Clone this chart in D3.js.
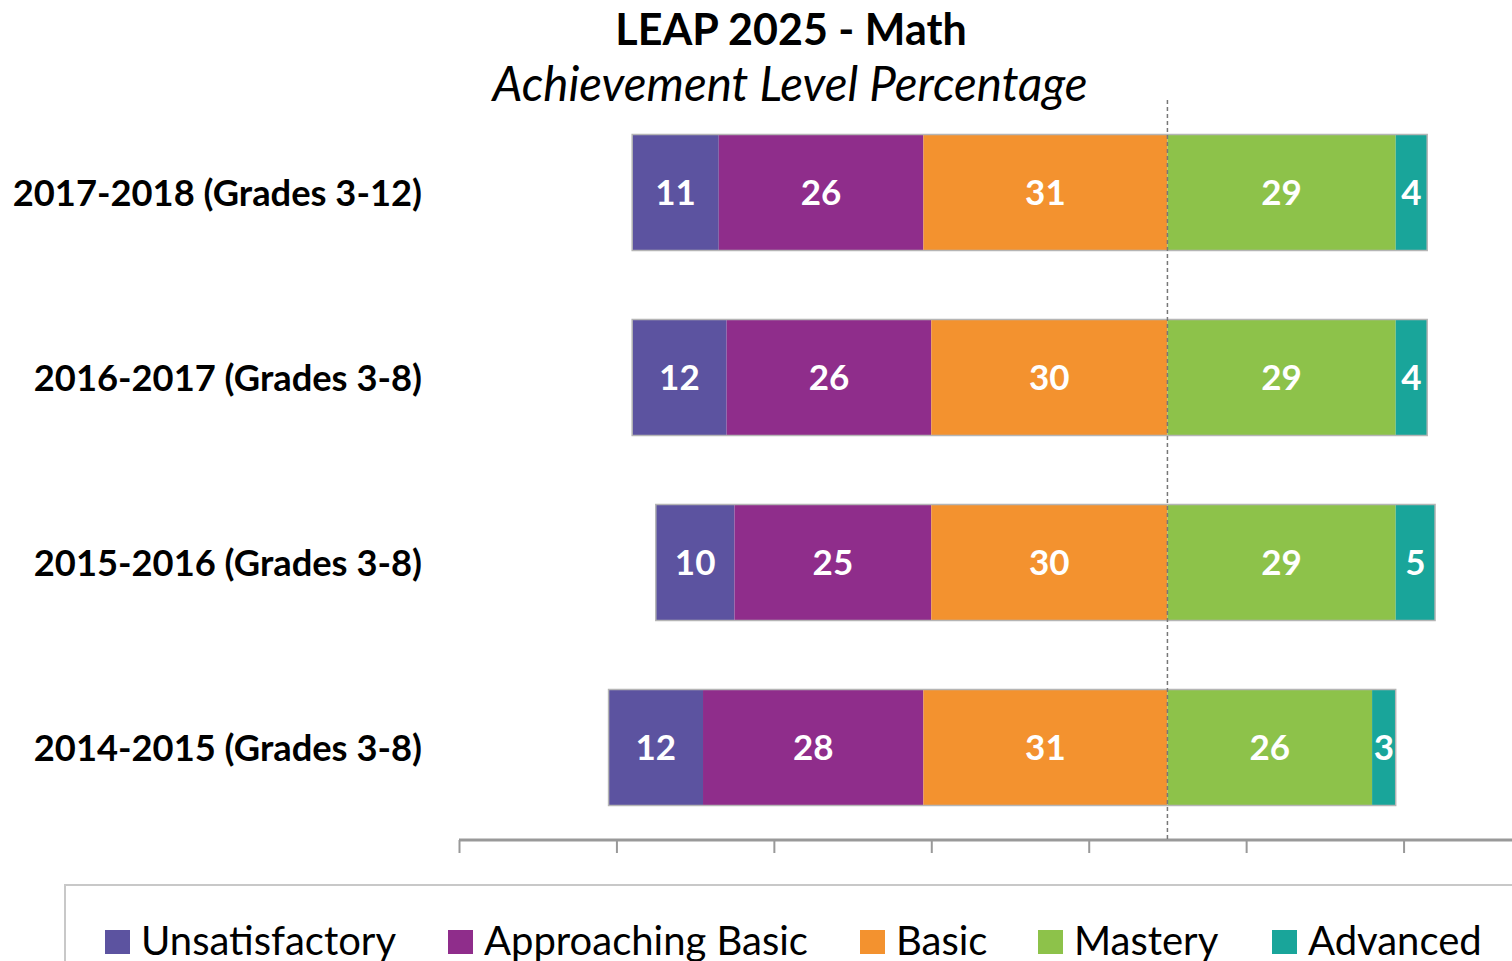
<!DOCTYPE html>
<html>
<head>
<meta charset="utf-8">
<script src="https://cdn.jsdelivr.net/npm/d3@7"></script>
<style>
  body { margin: 0; background: #fff; }
  svg { display: block; font-family: Lato, "Open Sans", sans-serif; }
</style>
</head>
<body>
<div id="chart"></div>
<script>
// Data
const years = ["2017-2018 (Grades 3-12)", "2016-2017 (Grades 3-8)", "2015-2016 (Grades 3-8)", "2014-2015 (Grades 3-8)"];
const levels = ["Unsatisfactory", "Approaching Basic", "Basic", "Mastery", "Advanced"];
const unsatisfactory = [11, 12, 10, 12];
const approachingBasic = [26, 26, 25, 28];
const basic = [31, 30, 30, 31];
const mastery = [29, 29, 29, 26];
const advanced = [4, 4, 5, 3];
const tickValues = [-90, -70, -50, -30, -10, 10, 30, 50];
const colors = ["#5c53a0", "#8f2d8b", "#f3922f", "#8dc24a", "#19a59a"];

const width = 1512, height = 961;

const svg = d3.select("#chart")
    .append("svg")
    .attr("width", width)
    .attr("height", height);

// Scales - zero sits between Basic and Mastery
const xScale = d3.scaleLinear()
    .domain([-90, 50])
    .range([459, 1561]);
const yScale = d3.scaleBand()
    .domain(years)
    .range([100, 840])
    .paddingInner(0.373)
    .paddingOuter(0.1865);

// Build segments for each year
const seriesValues = [unsatisfactory, approachingBasic, basic, mastery, advanced];
const rows = years.map((year, i) => {
    const vals = seriesValues.map(s => s[i]);
    let start = -(vals[0] + vals[1] + vals[2]);
    const segs = vals.map((v, j) => {
        const seg = { year, level: levels[j], value: v, x0: start, x1: start + v, color: colors[j] };
        start += v;
        return seg;
    });
    return { year, segs };
});

// Title
svg.append("text")
    .attr("x", 791)
    .attr("y", 45)
    .attr("text-anchor", "middle")
    .style("font-size", "43px")
    .style("font-weight", "bold")
    .text("LEAP 2025 - Math");

svg.append("text")
    .attr("x", 790)
    .attr("y", 101)
    .attr("text-anchor", "middle")
    .style("font-size", "47.5px")
    .style("font-style", "italic")
    .text("Achievement Level Percentage");

// Axis
const axis = svg.append("g")
    .attr("transform", "translate(0, 840)")
    .call(d3.axisBottom(xScale).tickValues(tickValues).tickSize(13).tickFormat(""));
axis.select(".domain").attr("stroke", "#999").attr("stroke-width", 3).attr("d", `M${xScale(-90)},0H${width + 10}`);
axis.selectAll(".tick line").attr("stroke", "#999").attr("stroke-width", 2);

// Bars
const barGroups = svg.selectAll(".bar")
    .data(rows)
    .enter()
    .append("g")
    .attr("class", "bar");

barGroups.selectAll("rect.seg")
    .data(d => d.segs)
    .enter()
    .append("rect")
    .attr("class", "seg")
    .attr("x", d => xScale(d.x0))
    .attr("y", d => yScale(d.year))
    .attr("width", d => xScale(d.x1) - xScale(d.x0))
    .attr("height", yScale.bandwidth())
    .attr("fill", d => d.color);

// Outline around whole bar
barGroups.append("rect")
    .attr("x", d => xScale(d.segs[0].x0))
    .attr("y", d => yScale(d.year))
    .attr("width", d => xScale(d.segs[4].x1) - xScale(d.segs[0].x0))
    .attr("height", yScale.bandwidth())
    .attr("fill", "none")
    .attr("stroke", "#b5b5b5")
    .attr("stroke-width", 1.5);

// Value labels
barGroups.selectAll("text")
    .data(d => d.segs)
    .enter()
    .append("text")
    .attr("x", d => (xScale(d.x0) + xScale(d.x1)) / 2)
    .attr("y", d => yScale(d.year) + yScale.bandwidth() / 2)
    .attr("dy", "0.36em")
    .attr("text-anchor", "middle")
    .attr("fill", "#fff")
    .style("font-size", "35px")
    .style("font-weight", "bold")
    .text(d => d.value);

// Center dashed line
svg.append("line")
    .attr("x1", xScale(0))
    .attr("x2", xScale(0))
    .attr("y1", 100)
    .attr("y2", 840)
    .attr("stroke", "#777")
    .attr("stroke-width", 1.5)
    .attr("stroke-dasharray", "4,3");

// Category labels
svg.selectAll(".ylabel")
    .data(years)
    .enter()
    .append("text")
    .attr("class", "ylabel")
    .attr("x", 422)
    .attr("y", d => yScale(d) + yScale.bandwidth() / 2)
    .attr("dy", "0.36em")
    .attr("text-anchor", "end")
    .style("font-size", "36.3px")
    .style("font-weight", "bold")
    .text(d => d);

// Legend
svg.append("rect")
    .attr("x", 65)
    .attr("y", 885)
    .attr("width", 1500)
    .attr("height", 120)
    .attr("fill", "none")
    .attr("stroke", "#c8c8c8")
    .attr("stroke-width", 2);

const legendX = [105, 448, 860, 1038, 1272];
const legend = svg.selectAll(".legend")
    .data(levels)
    .enter()
    .append("g")
    .attr("class", "legend")
    .attr("transform", (d, i) => `translate(${legendX[i]}, 930)`);

legend.append("rect")
    .attr("width", 25)
    .attr("height", 24)
    .attr("fill", (d, i) => colors[i]);

legend.append("text")
    .attr("x", 36)
    .attr("y", 25)
    .style("font-size", "40px")
    .text(d => d);
</script>
</body>
</html>
